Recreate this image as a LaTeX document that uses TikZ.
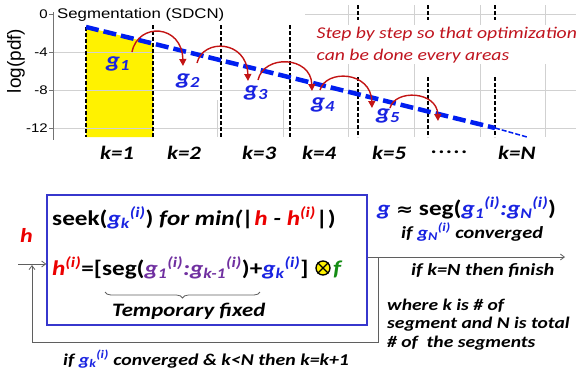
\documentclass[tikz,border=0pt]{standalone}
\usepackage{fontspec}
\usepackage{amsmath}
\setmainfont{Carlito}[FakeStretch=1.2]
\newfontfamily\arialf{Liberation Sans}[FakeStretch=1.2]
\newfontfamily\arialplain{Liberation Sans}
\newfontfamily\dejavu{DejaVu Sans}[FakeStretch=1.2]
\usetikzlibrary{arrows.meta,decorations.pathreplacing}
\definecolor{gblue}{RGB}{25,35,225}
\definecolor{lineblue}{RGB}{0,30,240}
\definecolor{hred}{RGB}{235,0,0}
\definecolor{arcred}{RGB}{195,20,20}
\definecolor{stepred}{RGB}{192,20,30}
\definecolor{gpurple}{RGB}{112,48,160}
\definecolor{fgreen}{RGB}{20,140,20}
\definecolor{boxblue}{RGB}{55,55,205}
\definecolor{conn}{RGB}{95,95,95}
\newcommand\gss[2]{$_{\text{#1}}$$^{\text{#2}}$}
\newcommand\gsb[1]{$_{\text{#1}}$}
\newcommand\gsup[1]{$^{\text{#1}}$}
\newcommand\fs[1]{\fontsize{#1}{#1}\selectfont}
\begin{document}
\begin{tikzpicture}[x=1pt,y=-1pt,
  grid/.style={draw=black!18,line width=0.8pt},
  segline/.style={draw=black,line width=1.6pt,dash pattern=on 4pt off 2pt},
  arcarrow/.style={draw=arcred,line width=1.4pt,-{Triangle[length=7pt,width=7pt]}},
  glabel/.style={anchor=base west,inner sep=0pt,text=gblue,font=\fs{22}\bfseries\itshape},
  klabel/.style={anchor=base west,inner sep=0pt,font=\fs{19}\bfseries\itshape},
  ticklabel/.style={anchor=east,inner sep=1pt,font=\arialf\fs{12.5}},
  txt/.style={anchor=base west,inner sep=0pt,font=\bfseries\itshape},
  connector/.style={draw=conn,line width=0.8pt},
  tip/.style={-{Straight Barb[length=4pt,width=6pt]}}
]
\useasboundingbox (0,0) rectangle (581,376);
% ---------- top plot ----------
\fill[yellow] (86,27) -- (153,43.5) -- (153,137) -- (86,137) -- cycle;
\foreach \yy in {52,90,128} \draw[grid] (53,\yy) -- (576,\yy);
\draw[grid] (305,14) -- (576,14);
\foreach \xx in {217,283} \draw[grid] (\xx,100) -- (\xx,137);
\foreach \xx in {348,414,480,545} \draw[grid] (\xx,5) -- (\xx,137);
\draw[draw=black!55,line width=0.9pt] (53,12) -- (53,140);
\foreach \yy in {14,52,90,128} \draw[draw=black!55,line width=0.9pt] (49,\yy) -- (53,\yy);
\node[ticklabel] (t0) at (49,14) {0};
\node[ticklabel] (t4) at (49,52) {-4};
\node[ticklabel] (t8) at (49,90) {-8};
\node[ticklabel] (t12) at (49,128) {-12};
\node[rotate=90,inner sep=0pt,font=\arialplain\fs{19}] (ylab) at (16,61) {log(pdf)};
\node[anchor=west,inner sep=1pt,fill=white,font=\arialf\fs{14}] (title) at (56,15) {Segmentation (SDCN)};
\node[anchor=north west,fill=white,inner sep=1.5pt,align=left,text=stepred,font=\fontsize{16.4}{22}\selectfont\itshape] (step) at (315,25)
  {Step by step so that optimization\\can be done every areas};
\draw[segline] (86,27) -- (86,137);
\foreach \xx in {153,221,290} \draw[segline] (\xx,25) -- (\xx,137);
\foreach \xx in {358,428,495} {\draw[segline] (\xx,5) -- (\xx,20); \draw[segline] (\xx,77) -- (\xx,137);}
\coordinate (b0) at (86,27);
\coordinate (b1) at (495,128);
\coordinate (b2) at (527,137);
\draw[lineblue,line width=4.5pt,dash pattern=on 13pt off 5pt] (b0) -- (b1);
\draw[lineblue,line width=1.5pt,dash pattern=on 5pt off 2pt] (b1) -- (b2);
\node[glabel] (g1) at (106,67) {g\gsb{1}};
\node[glabel] (g2) at (176,84) {g\gsb{2}};
\node[glabel] (g3) at (244,96) {g\gsb{3}};
\node[glabel] (g4) at (311,108) {g\gsb{4}};
\node[glabel] (g5) at (376,119) {g\gsb{5}};
\coordinate (s1) at (132,52); \coordinate (e1) at (183,66);
\coordinate (s2) at (197,63); \coordinate (e2) at (248,81);
\coordinate (s3) at (258,80); \coordinate (e3) at (312,91);
\coordinate (s4) at (320,90); \coordinate (e4) at (372,108);
\coordinate (s5) at (390,108); \coordinate (e5) at (438,121);
\draw[arcarrow] (s1) .. controls (138,22) and (182,24) .. (e1);
\draw[arcarrow] (s2) .. controls (203,38) and (247,40) .. (e2);
\draw[arcarrow] (s3) .. controls (264,54) and (311,56) .. (e3);
\draw[arcarrow] (s4) .. controls (326,69) and (371,71) .. (e4);
\draw[arcarrow] (s5) .. controls (395,89) and (437,91) .. (e5);
\node[klabel] (k1) at (100,159) {k=1};
\node[klabel] (k2) at (167,159) {k=2};
\node[klabel] (k3) at (242,159) {k=3};
\node[klabel] (k4) at (302,159) {k=4};
\node[klabel] (k5) at (372,159) {k=5};
\node[klabel] (kd) at (431,153) {.\kern1.5pt.\kern1.5pt.\kern1.5pt.\kern1.5pt.};
\node[klabel] (kN) at (498,159) {k=N};
% ---------- bottom block diagram ----------
\node[draw=boxblue,line width=1.4pt,minimum width=320pt,minimum height=130pt,inner sep=0pt] (box) at (207,260) {};
\node[txt,font=\fs{21}\bfseries] (row1) at (52,225)
  {seek(\textcolor{gblue}{\itshape g\gss{k}{(i)}})\itshape\ for min(|\textcolor{hred}{h} - \textcolor{hred}{h\gsup{(i)}}\upshape|)};
\node[txt,font=\fs{21}\bfseries] (row2) at (52,275)
  {\textcolor{hred}{\itshape h\gsup{(i)}}=[seg(\textcolor{gpurple}{\itshape g\gss{1}{(i)}:g\gss{k-1}{(i)}})+\textcolor{gblue}{\itshape g\gss{k}{(i)}}]};
\node[circle,draw=black,fill=yellow,line width=1.3pt,minimum size=14pt,inner sep=0pt] (ot) at (323,268) {};
\draw[line width=1.3pt] (ot.north west) -- (ot.south east) (ot.north east) -- (ot.south west);
\node[txt,text=fgreen,font=\fs{21}\bfseries\itshape] (f) at (333,275) {f};
\coordinate (bl) at (105,292); \coordinate (br) at (260,292);
\draw[draw=conn,line width=0.8pt,decorate,decoration={brace,mirror,amplitude=6pt}] (bl) -- (br);
\node[txt,font=\fs{19}\bfseries\itshape] (temp) at (112,316) {Temporary fixed};
\node[txt,text=hred,font=\fs{20}\bfseries\itshape] (h) at (20,242) {h};
\coordinate (in) at (18,264);
\draw[connector,tip] (in) -- (box.west |- in);
\coordinate (out) at (565,257);
\coordinate (split) at (378,257);
\draw[connector,tip] (box.east |- out) -- (out);
\coordinate (fb1) at (378,342);
\coordinate (fb2) at (32,342);
\coordinate (fb3) at (32,265);
\draw[connector,tip] (split) -- (fb1) -- (fb2) -- (fb3);
\node[txt,font=\fs{21}\bfseries] (res) at (377,215)
  {\textcolor{gblue}{\itshape g} {\dejavu\bfseries\fs{17}≈} seg(\textcolor{gblue}{\itshape g\gss{1}{(i)}:g\gss{N}{(i)}})};
\node[txt,font=\fs{17}\bfseries\itshape] (conv) at (401,238) {if \textcolor{gblue}{g\gss{N}{(i)}} converged};
\node[txt,font=\fs{17}\bfseries\itshape] (fin) at (411,275) {if k=N then finish};
\node[txt,font=\fs{16.3}\bfseries\itshape] (w1) at (387,310) {where k is \# of};
\node[txt,font=\fs{16.3}\bfseries\itshape] (w2) at (387,328) {segment and N is total};
\node[txt,font=\fs{16.3}\bfseries\itshape] (w3) at (387,347) {\# of \ the segments};
\node[txt,font=\fs{16.5}\bfseries\itshape] (loop) at (63,365)
  {if \textcolor{gblue}{g\gss{k}{(i)}} converged \& k<N then k=k+1};
\end{tikzpicture}
\end{document}
